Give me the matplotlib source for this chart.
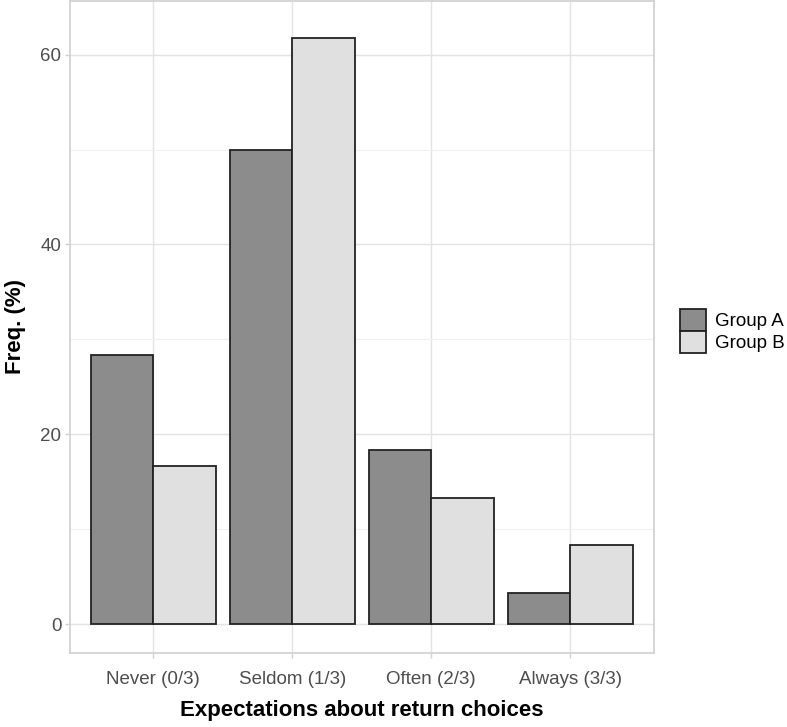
import matplotlib
matplotlib.use("Agg")
import matplotlib.pyplot as plt
import numpy as np
from matplotlib.patches import Patch

plt.rcParams['font.family'] = ['Liberation Sans', 'DejaVu Sans']

# Data
categories = ["Never (0/3)", "Seldom (1/3)", "Often (2/3)", "Always (3/3)"]
groups = ["Group A", "Group B"]
group_a = [28.3, 50.0, 18.3, 3.3]
group_b = [16.7, 61.7, 13.3, 8.3]
colors = ["#8c8c8c", "#e0e0e0"]

W, H = 787, 727
fig = plt.figure(figsize=(W / 100, H / 100), dpi=100)
ax = fig.add_axes([70 / W, (H - 653) / H, 583.5 / W, 652.5 / H])

x = np.arange(1, len(categories) + 1)
bw = 0.45
ax.bar(x - bw / 2, group_a, width=bw, color=colors[0], edgecolor="#222222", linewidth=1.3, zorder=3)
ax.bar(x + bw / 2, group_b, width=bw, color=colors[1], edgecolor="#222222", linewidth=1.3, zorder=3)

ax.set_xlim(0.4, 4.6)
ax.set_ylim(-3.05, 65.7)
ax.set_xticks(x)
ax.set_xticklabels(categories)
ax.set_yticks([0, 20, 40, 60])
ax.set_yticks([10, 30, 50], minor=True)

# theme_light look
for s in ax.spines.values():
    s.set_color("#d0d0d0")
    s.set_linewidth(1.2)
ax.grid(True, which="major", color="#e3e3e3", linewidth=1.0, zorder=0)
ax.grid(True, which="minor", axis="y", color="#f0f0f0", linewidth=0.8, zorder=0)
ax.tick_params(axis="both", which="major", colors="#d0d0d0", length=3.7, width=1.0,
               labelcolor="#4d4d4d", labelsize=13.5)
ax.tick_params(axis="y", which="major", pad=2.5)
ax.tick_params(axis="x", which="major", pad=9)
ax.tick_params(axis="y", which="minor", length=0)

ax.set_xlabel("Expectations about return choices", fontsize=16, fontweight="bold", labelpad=9)
ax.set_ylabel("Freq. (%)", fontsize=16, fontweight="bold", labelpad=10)

handles = [Patch(facecolor=c, edgecolor="#222222", linewidth=1.3) for c in colors]
fig.legend(handles, groups, loc="center left", bbox_to_anchor=(680 / W, 1 - 331 / H),
           frameon=False, fontsize=13.5, handlelength=1.39, handleheight=1.44,
           labelspacing=0.0, handletextpad=0.5, borderaxespad=0, borderpad=0)

fig.savefig("out.png", dpi=100)
